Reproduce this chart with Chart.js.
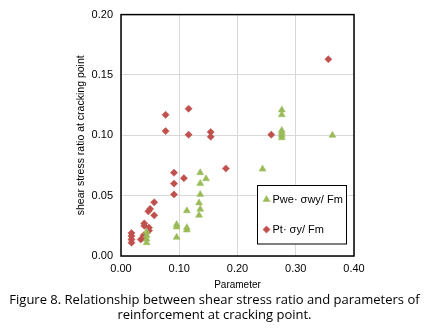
<!DOCTYPE html>
<html>
<head>
<meta charset="utf-8">
<script src="https://cdn.jsdelivr.net/npm/chart.js@4"></script>
<style>
  html, body { margin: 0; padding: 0; background: #fff; }
  #wrap { width: 429px; height: 330px; position: relative; overflow: hidden; }
  #cap { position: absolute; left: 0; top: 292px; width: 429px; text-align: center;
         font-family: "Open Sans", sans-serif; font-size: 13px; line-height: 15px; color: #000; white-space: nowrap; }
</style>
</head>
<body>
<div id="wrap">
  <canvas id="c" width="429" height="292"></canvas>
  <div id="cap">Figure 8. Relationship between shear stress ratio and parameters of<br>reinforcement at cracking point.</div>
</div>
<script>
// ---- data ----
const seriesLabels = ["Pwe\u00b7 \u03c3wy/ Fm", "Pt\u00b7 \u03c3y/ Fm"];
const xTicks = [0.00, 0.10, 0.20, 0.30, 0.40];
const yTicks = [0.00, 0.05, 0.10, 0.15, 0.20];

const pweX = [0.044, 0.044, 0.044, 0.044, 0.0955, 0.0955, 0.0955, 0.113, 0.113, 0.113,
              0.136, 0.136, 0.136, 0.134, 0.136, 0.134, 0.146, 0.243,
              0.276, 0.276, 0.276, 0.276, 0.276, 0.276, 0.363];
const pweY = [0.020, 0.017, 0.014, 0.011, 0.026, 0.024, 0.0155, 0.0375, 0.0235, 0.0215,
              0.069, 0.060, 0.051, 0.044, 0.0388, 0.0337, 0.064, 0.072,
              0.121, 0.117, 0.104, 0.102, 0.100, 0.098, 0.100];

const ptX = [0.018, 0.018, 0.018, 0.018, 0.034, 0.039, 0.039, 0.040, 0.040, 0.048, 0.048,
             0.047, 0.050, 0.057, 0.057, 0.0766, 0.0766, 0.091, 0.091, 0.091, 0.108,
             0.116, 0.116, 0.154, 0.154, 0.180, 0.258, 0.356];
const ptY = [0.019, 0.0165, 0.0137, 0.011, 0.0137, 0.0172, 0.0153, 0.027, 0.025, 0.0235, 0.021,
             0.037, 0.039, 0.0445, 0.0337, 0.117, 0.1035, 0.069, 0.060, 0.051, 0.0645,
             0.122, 0.1005, 0.1027, 0.0988, 0.0725, 0.1005, 0.163];

const toPts = (xs, ys) => xs.map((x, i) => ({ x: x, y: ys[i] }));

const GREEN = '#9BBB59';
const RED = '#C0504D';

const frame = {
  id: 'frame',
  beforeDatasetsDraw(chart) {
    const { ctx, chartArea: a } = chart;
    ctx.save();
    ctx.strokeStyle = '#000';
    ctx.lineWidth = 1.5;
    ctx.strokeRect(a.left, a.top, a.right - a.left, a.bottom - a.top);
    ctx.restore();
  }
};

const legendBox = {
  id: 'legendBox',
  afterDatasetsDraw(chart) {
    const { ctx } = chart;
    const bx = 257.5, by = 185.5, bw = 89, bh = 58.5;
    ctx.save();
    ctx.fillStyle = '#fff';
    ctx.fillRect(bx, by, bw, bh);
    ctx.strokeStyle = '#000';
    ctx.lineWidth = 1;
    ctx.strokeRect(bx, by, bw, bh);
    const rows = [199.5, 229.5];
    chart.data.datasets.forEach((ds, i) => {
      ctx.fillStyle = ds.backgroundColor;
      ctx.strokeStyle = ds.borderColor;
      ctx.lineWidth = ds.borderWidth;
      Chart.helpers.drawPoint(ctx, { pointStyle: ds.pointStyle, radius: ds.pointRadius, borderWidth: ds.borderWidth, rotation: 0 }, 266.5, rows[i]);
      ctx.fillStyle = '#000';
      ctx.font = '11px "Liberation Sans", Arial, sans-serif';
      ctx.textBaseline = 'middle';
      ctx.textAlign = 'left';
      ctx.fillText(ds.label, 272.5, rows[i]);
    });
    ctx.restore();
  }
};

new Chart(document.getElementById('c'), {
  type: 'scatter',
  data: {
    datasets: [
      { label: seriesLabels[0], data: toPts(pweX, pweY), pointStyle: 'triangle', pointRadius: 4,
        backgroundColor: GREEN, borderColor: GREEN, borderWidth: 0.5 },
      { label: seriesLabels[1], data: toPts(ptX, ptY), pointStyle: 'rectRot', pointRadius: 3.6,
        backgroundColor: RED, borderColor: RED, borderWidth: 0.5 }
    ]
  },
  options: {
    responsive: false,
    animation: false,
    layout: { padding: { left: 0, right: 75, top: 12, bottom: 0 } },
    plugins: { legend: { display: false }, tooltip: { enabled: false } },
    scales: {
      x: {
        type: 'linear', min: 0, max: 0.4,
        afterBuildTicks: s => { s.ticks = xTicks.map(v => ({ value: v })); },
        afterFit: s => { s.height = 36; },
        grid: { color: '#d9d9d9', lineWidth: 1, drawTicks: false },
        border: { display: false },
        ticks: { padding: 6, color: '#000', font: { family: '"Liberation Sans", Arial, sans-serif', size: 11 },
                 callback: v => v.toFixed(2), maxRotation: 0 },
        title: { display: true, text: 'Parameter', color: '#000', padding: { top: 0, bottom: 1 },
                 font: { family: '"Liberation Sans", Arial, sans-serif', size: 10 } }
      },
      y: {
        type: 'linear', min: 0, max: 0.2,
        afterBuildTicks: s => { s.ticks = yTicks.map(v => ({ value: v })); },
        afterFit: s => { s.width = 121; },
        grid: { color: '#d9d9d9', lineWidth: 1, drawTicks: false },
        border: { display: false },
        ticks: { padding: 8, color: '#000', font: { family: '"Liberation Sans", Arial, sans-serif', size: 11 },
                 callback: v => v.toFixed(2) },
        title: { display: true, text: 'shear stress ratio at cracking point', color: '#000',
                 padding: { top: 75, bottom: 0 },
                 font: { family: '"Liberation Sans", Arial, sans-serif', size: 10.5 } }
      }
    }
  },
  plugins: [frame, legendBox]
});
</script>
</body>
</html>
